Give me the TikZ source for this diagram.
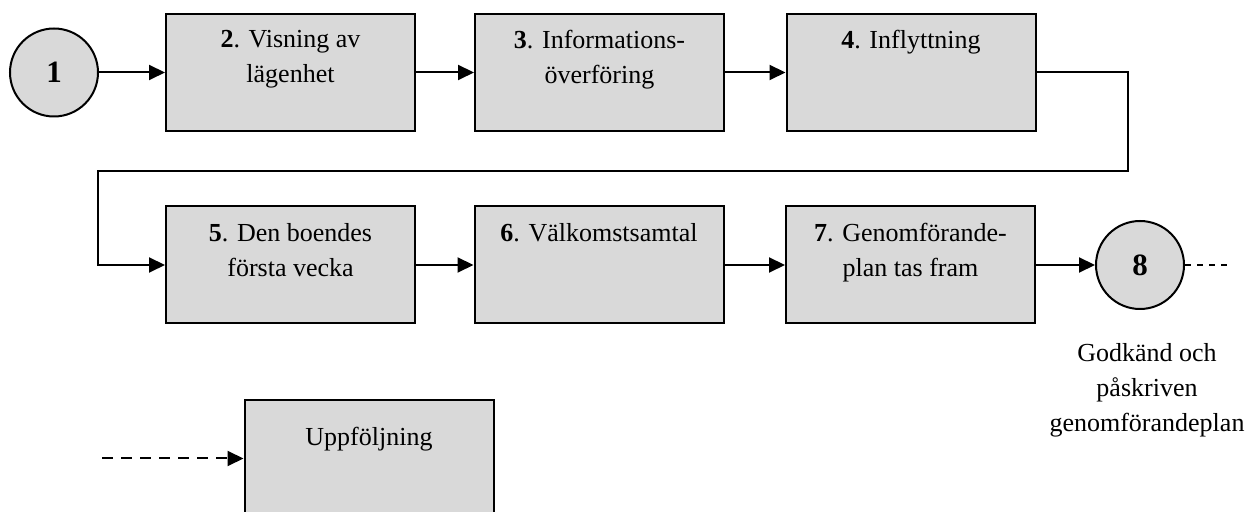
\documentclass[tikz,border=0pt]{standalone}
\usepackage{fontspec}
\setmainfont{Liberation Serif}
\usetikzlibrary{arrows.meta,positioning}
\definecolor{boxgray}{RGB}{217,217,217}
\tikzset{
  box/.style     = {draw, line width=1pt, fill=boxgray, minimum width=124.5pt,
                    minimum height=58.5pt, inner sep=0pt},
  boxtext/.style = {anchor=north, yshift=-5.2pt, align=center,
                    font=\fontsize{13}{17.5}\selectfont},
  stage/.style   = {circle, draw, line width=1pt, fill=boxgray, minimum size=44pt,
                    inner sep=0pt, font=\fontsize{15.5}{18}\selectfont\bfseries},
  flow/.style    = {-{Triangle[length=8pt,width=7.5pt]}, line width=1pt},
  dflow/.style   = {flow, dash pattern=on 5.5pt off 4pt},
  tail/.style    = {line width=0.8pt, dash pattern=on 3pt off 3pt},
  note/.style    = {align=center, inner sep=0pt, font=\fontsize{13}{17.5}\selectfont},
}
\begin{document}
\begin{tikzpicture}[x=0.5pt,y=-0.5pt]
  \useasboundingbox (0,0) rectangle (1246,512);
  \node[stage] (c1) at (54,72.5) {1};
  \node[box, label={[boxtext]north:{\textbf{2}. Visning av\\lägenhet}}] (b2) at (290.5,72.5) {};
  \node[box, label={[boxtext]north:{\textbf{3}. Informations-\\överföring}}] (b3) at (599.5,72.5) {};
  \node[box, label={[boxtext]north:{\textbf{4}. Inflyttning}}] (b4) at (911,72.5) {};
  \node[box, label={[boxtext]north:{\textbf{5}. Den boendes\\första vecka}}] (b5) at (290.5,265) {};
  \node[box, label={[boxtext]north:{\textbf{6}. Välkomstsamtal}}] (b6) at (599,265) {};
  \node[box, label={[boxtext]north:{\textbf{7}. Genomförande-\\plan tas fram}}] (b7) at (910.5,265) {};
  \node[stage] (c8) at (1140,265) {8};
  \node[note, below=16.5pt of c8, xshift=3.5pt] (plan) {Godkänd och\\påskriven\\genomförandeplan};
  \node[box, label={[boxtext,yshift=-5.3pt]north:Uppföljning}] (up) at (369,458.5) {};
  \coordinate (r1) at (1128,171);
  \coordinate (r2) at (98,171);
  \coordinate (e8) at (1232,265);
  \coordinate (s9) at (102,458.5);
  \draw[flow] (c1) -- (b2);
  \draw[flow] (b2) -- (b3);
  \draw[flow] (b3) -- (b4);
  \draw[flow] (b4.east) -| (r1) -- (r2) |- (b5.west);
  \draw[flow] (b5) -- (b6);
  \draw[flow] (b6) -- (b7);
  \draw[flow] (b7) -- (c8);
  \draw[tail] (c8) -- (e8);
  \draw[dflow] (s9) -- (up);
\end{tikzpicture}
\end{document}
